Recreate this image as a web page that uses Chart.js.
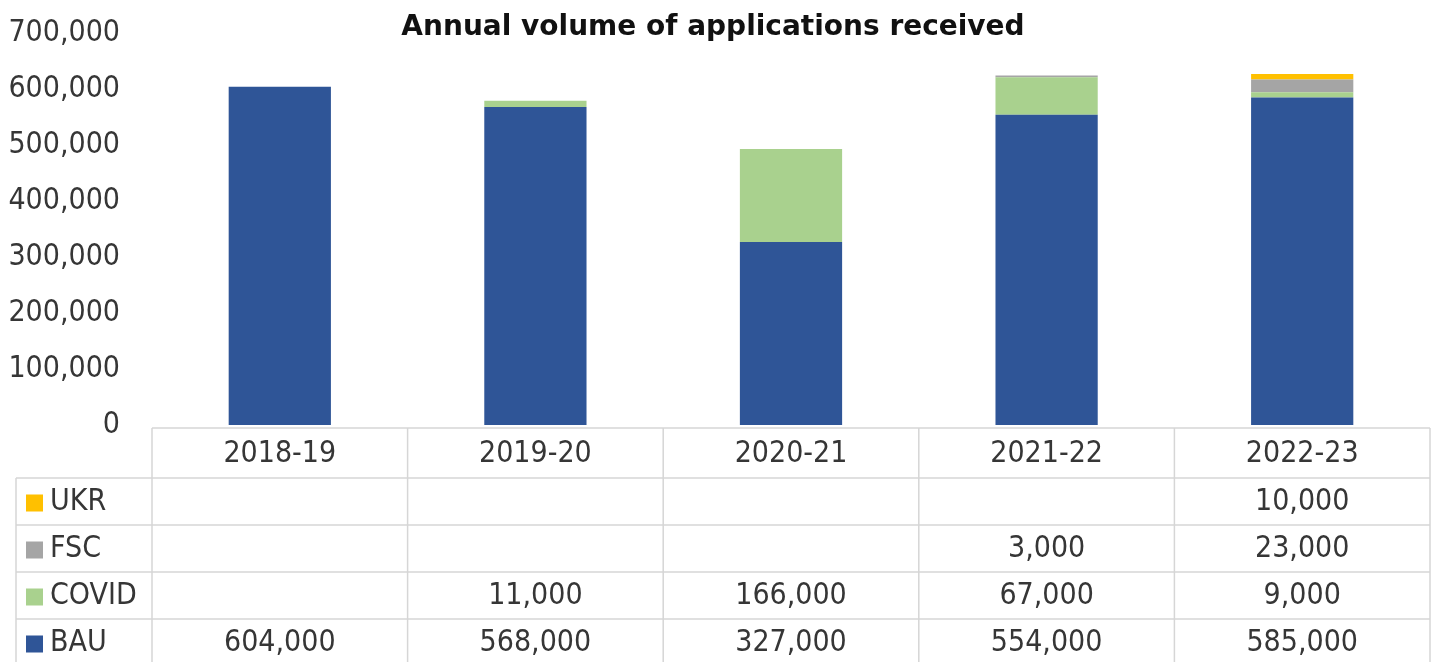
<!DOCTYPE html>
<html>
<head>
<meta charset="utf-8">
<title>Annual volume of applications received</title>
<script src="https://cdn.jsdelivr.net/npm/chart.js@4/dist/chart.umd.min.js"></script>
<style>
  html, body { margin: 0; padding: 0; background: #fff; }
  #wrap { width: 1434px; height: 662px; position: relative; }
</style>
</head>
<body>
<div id="wrap"><canvas id="chart"></canvas></div>
<script>
// Financial years and the volume of applications for each stream
const years = ["2018-19", "2019-20", "2020-21", "2021-22", "2022-23"];
const bau = [604000, 568000, 327000, 554000, 585000];
const covid = [null, 11000, 166000, 67000, 9000];
const fsc = [null, null, null, 3000, 23000];
const ukr = [null, null, null, null, 10000];
const yTicks = [0, 100000, 200000, 300000, 400000, 500000, 600000, 700000];

const FONT = "'DejaVu Sans Condensed', 'DejaVu Sans', sans-serif";
const TITLE_FONT = "'DejaVu Sans', sans-serif";
const TEXT = "#363636";
const GRID = "#d6d6d6";

const series = [
    { label: "BAU", data: bau, color: "#2f5597" },
    { label: "COVID", data: covid, color: "#a9d18e" },
    { label: "FSC", data: fsc, color: "#a5a5a5" },
    { label: "UKR", data: ukr, color: "#ffc000" }
];

const fmt = v => v.toLocaleString("en-GB");

// data table under the bars, lined up with the category scale
const dataTable = {
    id: "dataTable",
    afterDraw(chart) {
        const { ctx, chartArea, scales: { x } } = chart;
        const n = years.length;
        const colW = (chartArea.right - chartArea.left) / n;
        const top = chartArea.bottom + 3;
        const headH = 50;
        const rowH = 47;
        const keyLeft = 16;
        const rows = series.slice().reverse(); // UKR on top, BAU last

        ctx.save();
        ctx.strokeStyle = GRID;
        ctx.lineWidth = 1.5;

        // header row border (category column area only)
        ctx.beginPath();
        ctx.moveTo(chartArea.left, top);
        ctx.lineTo(chartArea.right, top);
        for (let i = 0; i <= n; i++) {
            const cx = chartArea.left + i * colW;
            ctx.moveTo(cx, top);
            ctx.lineTo(cx, top + headH + rowH * rows.length);
        }
        // series rows, including the key column
        for (let r = 0; r <= rows.length; r++) {
            const ry = top + headH + r * rowH;
            ctx.moveTo(keyLeft, ry);
            ctx.lineTo(chartArea.right, ry);
        }
        ctx.moveTo(keyLeft, top + headH);
        ctx.lineTo(keyLeft, top + headH + rowH * rows.length);
        ctx.stroke();

        ctx.font = "30px " + FONT;
        ctx.fillStyle = TEXT;
        ctx.textAlign = "center";
        ctx.textBaseline = "middle";
        years.forEach((yr, i) => {
            ctx.fillText(yr, x.getPixelForValue(i), top + headH / 2 + 1);
        });

        rows.forEach((s, r) => {
            const cy = top + headH + r * rowH + rowH / 2 + 1;
            ctx.fillStyle = s.color;
            ctx.fillRect(keyLeft + 10, cy - 8, 17, 17);
            ctx.fillStyle = TEXT;
            ctx.textAlign = "left";
            ctx.fillText(s.label, keyLeft + 34, cy);
            ctx.textAlign = "center";
            s.data.forEach((v, i) => {
                if (v !== null) ctx.fillText(fmt(v), x.getPixelForValue(i), cy);
            });
        });

        // title sits level with the top tick label
        ctx.font = "bold 28px " + TITLE_FONT;
        ctx.fillStyle = "#111";
        ctx.textAlign = "center";
        ctx.fillText("Annual volume of applications received", 713, 28);
        ctx.restore();
    }
};

new Chart(document.getElementById("chart"), {
    type: "bar",
    data: {
        labels: years,
        datasets: series.map(s => ({
            label: s.label,
            data: s.data,
            backgroundColor: s.color,
            borderWidth: 0,
            categoryPercentage: 1,
            barPercentage: 0.4
        }))
    },
    options: {
        responsive: true,
        maintainAspectRatio: false,
        animation: false,
        layout: { padding: { top: 33, right: 4, bottom: 237, left: 0 } },
        plugins: {
            legend: { display: false },
            title: { display: false },
            tooltip: { enabled: false }
        },
        scales: {
            x: {
                stacked: true,
                display: false
            },
            y: {
                stacked: true,
                min: 0,
                max: 700000,
                afterFit(scale) {
                    // fixed axis width; tick labels may overhang the plot edges
                    scale.width = 152;
                    scale.paddingTop = 0;
                    scale.paddingBottom = 0;
                },
                afterBuildTicks(scale) { scale.ticks = yTicks.map(v => ({ value: v })); },
                grid: { display: false, drawTicks: false },
                border: { display: false },
                ticks: {
                    padding: 32,
                    color: TEXT,
                    font: { family: FONT, size: 30 },
                    callback: v => fmt(v)
                }
            }
        }
    },
    plugins: [dataTable]
});
</script>
</body>
</html>
